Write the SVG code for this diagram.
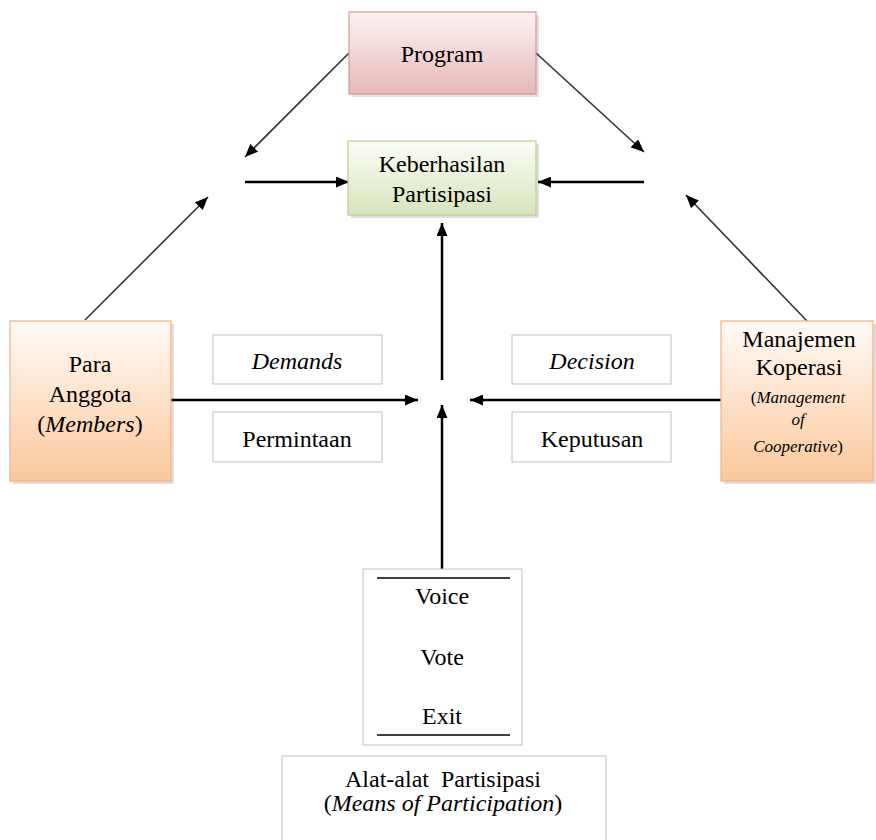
<svg xmlns="http://www.w3.org/2000/svg" width="876" height="840" viewBox="0 0 876 840" font-family="'Liberation Serif', 'DejaVu Serif', serif">
<style>
text{font-family:'Liberation Serif','DejaVu Serif',serif;font-size:24px;fill:#000;text-anchor:middle}
.i{font-style:italic}
.s{font-size:17px}
.lbl{fill:#fff;stroke:#bfbfbf;stroke-width:1}
.thick{stroke:#000;stroke-width:2.5;fill:none}
.thin{stroke:#333;stroke-width:1.6;fill:none}
.shadow{fill:#000;opacity:0.12}
</style>
<defs>
<linearGradient id="gRed" x1="0" y1="0" x2="0" y2="1"><stop offset="0" stop-color="#fcf3f3"/><stop offset="1" stop-color="#e6b8b7"/></linearGradient>
<linearGradient id="gGreen" x1="0" y1="0" x2="0" y2="1"><stop offset="0" stop-color="#fbfdf7"/><stop offset="1" stop-color="#d7e4bc"/></linearGradient>
<linearGradient id="gOrange" x1="0" y1="0" x2="0" y2="1"><stop offset="0" stop-color="#fffaf6"/><stop offset="1" stop-color="#fbc89c"/></linearGradient>
<marker id="ah" markerUnits="userSpaceOnUse" markerWidth="13" markerHeight="11" refX="13" refY="5.5" orient="auto"><path d="M0,0 L13,5.5 L0,11 z" fill="#000"/></marker>
</defs>

<g id="connectors">
<line class="thin" x1="349" y1="53" x2="245" y2="157" marker-end="url(#ah)"/>
<line class="thin" x1="536" y1="53" x2="644" y2="152" marker-end="url(#ah)"/>
<line class="thin" x1="85" y1="320" x2="208" y2="197" marker-end="url(#ah)"/>
<line class="thin" x1="807" y1="321" x2="686" y2="195" marker-end="url(#ah)"/>
<line class="thick" x1="245" y1="182" x2="349" y2="182" marker-end="url(#ah)"/>
<line class="thick" x1="644" y1="182" x2="538" y2="182" marker-end="url(#ah)"/>
<line class="thick" x1="442" y1="380" x2="442" y2="223" marker-end="url(#ah)"/>
<line class="thick" x1="171" y1="400" x2="418" y2="400" marker-end="url(#ah)"/>
<line class="thick" x1="721" y1="400" x2="470" y2="400" marker-end="url(#ah)"/>
<line class="thick" x1="442" y1="569" x2="442" y2="405" marker-end="url(#ah)"/>
</g>

<g id="program">
<rect class="shadow" x="352" y="15" width="187" height="82"/>
<rect x="349" y="12" width="187" height="82" fill="url(#gRed)" stroke="#d99594" stroke-width="1.2"/>
<text x="442" y="62">Program</text>
</g>

<g id="keberhasilan">
<rect class="shadow" x="351" y="144" width="188" height="74"/>
<rect x="348" y="141" width="188" height="74" fill="url(#gGreen)" stroke="#b9d08c" stroke-width="1.2"/>
<text x="442" y="172">Keberhasilan</text>
<text x="442" y="202">Partisipasi</text>
</g>

<g id="para-anggota">
<rect class="shadow" x="13" y="324" width="161" height="160"/>
<rect x="10" y="321" width="161" height="160" fill="url(#gOrange)" stroke="#f4b183" stroke-width="1.2"/>
<text x="90" y="372">Para</text>
<text x="90" y="402">Anggota</text>
<text x="90" y="432">(<tspan class="i">Members</tspan>)</text>
</g>

<g id="manajemen">
<rect class="shadow" x="724" y="324" width="152" height="160"/>
<rect x="721" y="321" width="152" height="160" fill="url(#gOrange)" stroke="#f4b183" stroke-width="1.2"/>
<text x="799" y="347">Manajemen</text>
<text x="799" y="375">Koperasi</text>
<text class="s" x="798" y="403">(<tspan class="i">Management</tspan></text>
<text class="s i" x="798" y="425">of</text>
<text class="s" x="798" y="452"><tspan class="i">Cooperative</tspan>)</text>
</g>

<g id="demands">
<rect class="lbl" x="213" y="335" width="169" height="49"/>
<text class="i" x="297" y="369">Demands</text>
</g>
<g id="permintaan">
<rect class="lbl" x="213" y="412" width="169" height="50"/>
<text x="297" y="447">Permintaan</text>
</g>
<g id="decision">
<rect class="lbl" x="512" y="335" width="159" height="49"/>
<text class="i" x="592" y="369">Decision</text>
</g>
<g id="keputusan">
<rect class="lbl" x="512" y="412" width="159" height="50"/>
<text x="592" y="447">Keputusan</text>
</g>

<g id="means">
<rect class="lbl" x="363" y="569" width="159" height="176"/>
<line x1="377" y1="578" x2="510" y2="578" stroke="#000" stroke-width="1.5"/>
<line x1="377" y1="735" x2="510" y2="735" stroke="#000" stroke-width="1.5"/>
<text x="442" y="604">Voice</text>
<text x="442" y="665">Vote</text>
<text x="442" y="724">Exit</text>
</g>

<g id="alat-alat">
<rect class="lbl" x="282" y="756" width="324" height="90"/>
<text x="443" y="787" xml:space="preserve">Alat-alat  Partisipasi</text>
<text x="443" y="811">(<tspan class="i">Means of Participation</tspan>)</text>
</g>
</svg>
